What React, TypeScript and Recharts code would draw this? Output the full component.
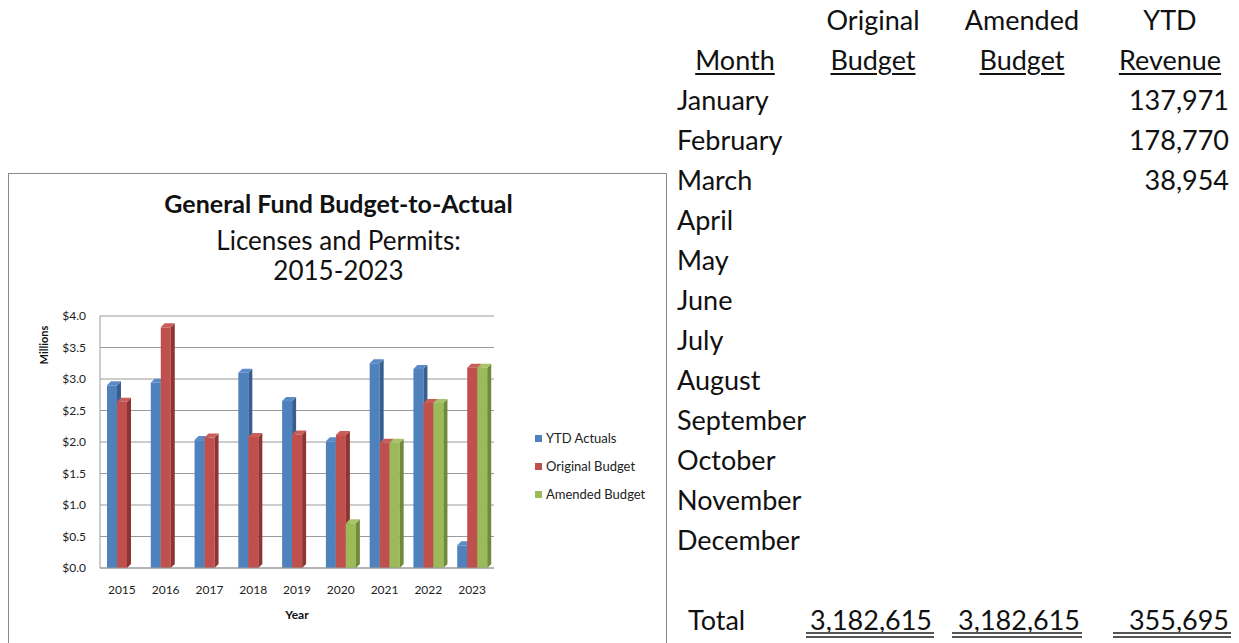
import React from 'react';
import { BarChart, Bar, XAxis, YAxis, CartesianGrid } from 'recharts';

const years = ['2015', '2016', '2017', '2018', '2019', '2020', '2021', '2022', '2023'];
const ytdActuals = [2.9, 2.94, 2.03, 3.1, 2.65, 2.01, 3.25, 3.16, 0.36];
const originalBudget = [2.64, 3.82, 2.07, 2.08, 2.12, 2.11, 1.99, 2.62, 3.18];
const amendedBudget = [null, null, null, null, null, 0.71, 1.99, 2.62, 3.18];
const yTicks = [0, 0.5, 1, 1.5, 2, 2.5, 3, 3.5, 4];

const months = [
  'January', 'February', 'March', 'April', 'May', 'June',
  'July', 'August', 'September', 'October', 'November', 'December',
];
const monthlyRevenue = [137971, 178770, 38954, null, null, null, null, null, null, null, null, null];
const totalOriginal = 3182615;
const totalAmended = 3182615;
const totalRevenue = 355695;

const data = years.map((y, i) => ({
  year: y,
  actual: ytdActuals[i],
  original: originalBudget[i],
  amended: amendedBudget[i],
}));

const FONT = 'Lato, "Liberation Sans", sans-serif';

// fake 3d column like the excel chart: front face, right side, top
const column3d = (front: string, side: string, top: string) => (props: any) => {
  const { x, y, width, height } = props;
  if (!height || height <= 0) return <g />;
  const d = 4;
  return (
    <g>
      <rect x={x} y={y} width={width} height={height} fill={front} />
      <polygon
        points={`${x + width},${y} ${x + width + d},${y - d} ${x + width + d},${y + height - d} ${x + width},${y + height}`}
        fill={side}
      />
      <polygon
        points={`${x},${y} ${x + d},${y - d} ${x + width + d},${y - d} ${x + width},${y}`}
        fill={top}
      />
    </g>
  );
};

const legendItems = [
  { label: 'YTD Actuals', color: '#4F81BD' },
  { label: 'Original Budget', color: '#C0504D' },
  { label: 'Amended Budget', color: '#9BBB59' },
];

const fmt = (n: number | null) => (n == null ? '' : n.toLocaleString('en-US'));

const cell = (text: string, x: number, cy: number, align: 'left' | 'right' | 'center', underline = false) => {
  const w = 200;
  const left = align === 'left' ? x : align === 'right' ? x - w : x - w / 2;
  return (
    <div
      key={`${text}-${x}-${cy}`}
      style={{
        position: 'absolute',
        left,
        top: cy - 20,
        width: w,
        height: 40,
        lineHeight: '40px',
        textAlign: align,
        whiteSpace: 'nowrap',
      }}
    >
      <span style={{ textDecoration: underline ? 'underline' : 'none', textUnderlineOffset: 3 }}>{text}</span>
    </div>
  );
};

const doubleLine = (x1: number, x2: number) => (
  <div key={`dl-${x1}`} style={{ position: 'absolute', left: x1, top: 632, width: x2 - x1 }}>
    <div style={{ height: 2, background: '#555' }} />
    <div style={{ height: 2 }} />
    <div style={{ height: 2, background: '#555' }} />
  </div>
);

const App = () => {
  return (
    <div
      style={{
        position: 'absolute',
        left: 0,
        top: 0,
        width: 1239,
        height: 643,
        overflow: 'hidden',
        background: '#fff',
        fontFamily: FONT,
      }}
    >
      {/* chart box */}
      <div
        style={{
          position: 'absolute',
          left: 8,
          top: 173,
          width: 659,
          height: 480,
          border: '1px solid #8a8a8a',
          boxSizing: 'border-box',
        }}
      >
        <div style={{ position: 'absolute', left: 0, width: 659, top: 14, height: 30, lineHeight: '30px', textAlign: 'center', fontSize: 25, fontWeight: 700, color: '#111' }}>
          General Fund Budget-to-Actual
        </div>
        <div style={{ position: 'absolute', left: 0, width: 659, top: 50, height: 32, lineHeight: '32px', textAlign: 'center', fontSize: 26, color: '#111' }}>
          Licenses and Permits:
        </div>
        <div style={{ position: 'absolute', left: 0, width: 659, top: 80, height: 32, lineHeight: '32px', textAlign: 'center', fontSize: 26, color: '#111' }}>
          2015-2023
        </div>
        <div
          style={{
            position: 'absolute',
            left: 35 - 40,
            top: 171 - 8,
            width: 80,
            height: 16,
            lineHeight: '16px',
            textAlign: 'center',
            fontSize: 11,
            fontWeight: 700,
            transform: 'rotate(-90deg)',
            color: '#111',
          }}
        >
          Millions
        </div>
        <div style={{ position: 'absolute', left: 526, top: 250, fontSize: 13, color: '#222' }}>
          {legendItems.map((it) => (
            <div key={it.label} style={{ height: 28, display: 'flex', alignItems: 'center' }}>
              <span style={{ width: 7, height: 7, background: it.color, marginRight: 4, display: 'inline-block' }} />
              {it.label}
            </div>
          ))}
        </div>
        <BarChart
          width={657}
          height={470}
          data={data}
          margin={{ top: 142, right: 172, bottom: 21, left: 0 }}
          barSize={10}
          barGap={0}
        >
          <CartesianGrid vertical={false} stroke="#9a9a9a" />
          <XAxis
            dataKey="year"
            height={55}
            tickLine={false}
            axisLine={{ stroke: '#9a9a9a' }}
            tickMargin={11}
            tick={{ fontSize: 12, fill: '#222', fontFamily: FONT }}
            label={{ value: 'Year', position: 'insideBottom', offset: 4, fontSize: 12, fontWeight: 700, fill: '#111', fontFamily: FONT }}
          />
          <YAxis
            width={91}
            domain={[0, 4]}
            ticks={yTicks}
            tickLine={false}
            axisLine={{ stroke: '#9a9a9a' }}
            tickMargin={8}
            tickFormatter={(v: number) => `$${v.toFixed(1)}`}
            tick={{ fontSize: 12, fill: '#222', fontFamily: FONT }}
          />
          <Bar dataKey="actual" name="YTD Actuals" fill="#4F81BD" shape={column3d('#4F81BD', '#365E8F', '#5B8BC7')} isAnimationActive={false} />
          <Bar dataKey="original" name="Original Budget" fill="#C0504D" shape={column3d('#C0504D', '#8E3532', '#C95D5A')} isAnimationActive={false} />
          <Bar dataKey="amended" name="Amended Budget" fill="#9BBB59" shape={column3d('#9BBB59', '#6F8A3A', '#A8C467')} isAnimationActive={false} />
        </BarChart>
      </div>

      {/* monthly table */}
      <div style={{ position: 'absolute', left: 0, top: 0, width: 1239, height: 643, fontSize: 27, color: '#111' }}>
        {cell('Original', 873, 20, 'center')}
        {cell('Amended', 1022, 20, 'center')}
        {cell('YTD', 1170, 20, 'center')}
        {cell('Month', 735, 60, 'center', true)}
        {cell('Budget', 873, 60, 'center', true)}
        {cell('Budget', 1022, 60, 'center', true)}
        {cell('Revenue', 1170, 60, 'center', true)}
        {months.map((m, i) => cell(m, 677, 100 + i * 40, 'left'))}
        {monthlyRevenue.map((v, i) => (v == null ? null : cell(fmt(v), 1229, 100 + i * 40, 'right')))}
        {cell('Total', 688, 620, 'left')}
        {cell(fmt(totalOriginal), 932, 620, 'right')}
        {cell(fmt(totalAmended), 1080, 620, 'right')}
        {cell(fmt(totalRevenue), 1229, 620, 'right')}
        {doubleLine(806, 934)}
        {doubleLine(952, 1082)}
        {doubleLine(1113, 1231)}
      </div>
    </div>
  );
};

export default App;
